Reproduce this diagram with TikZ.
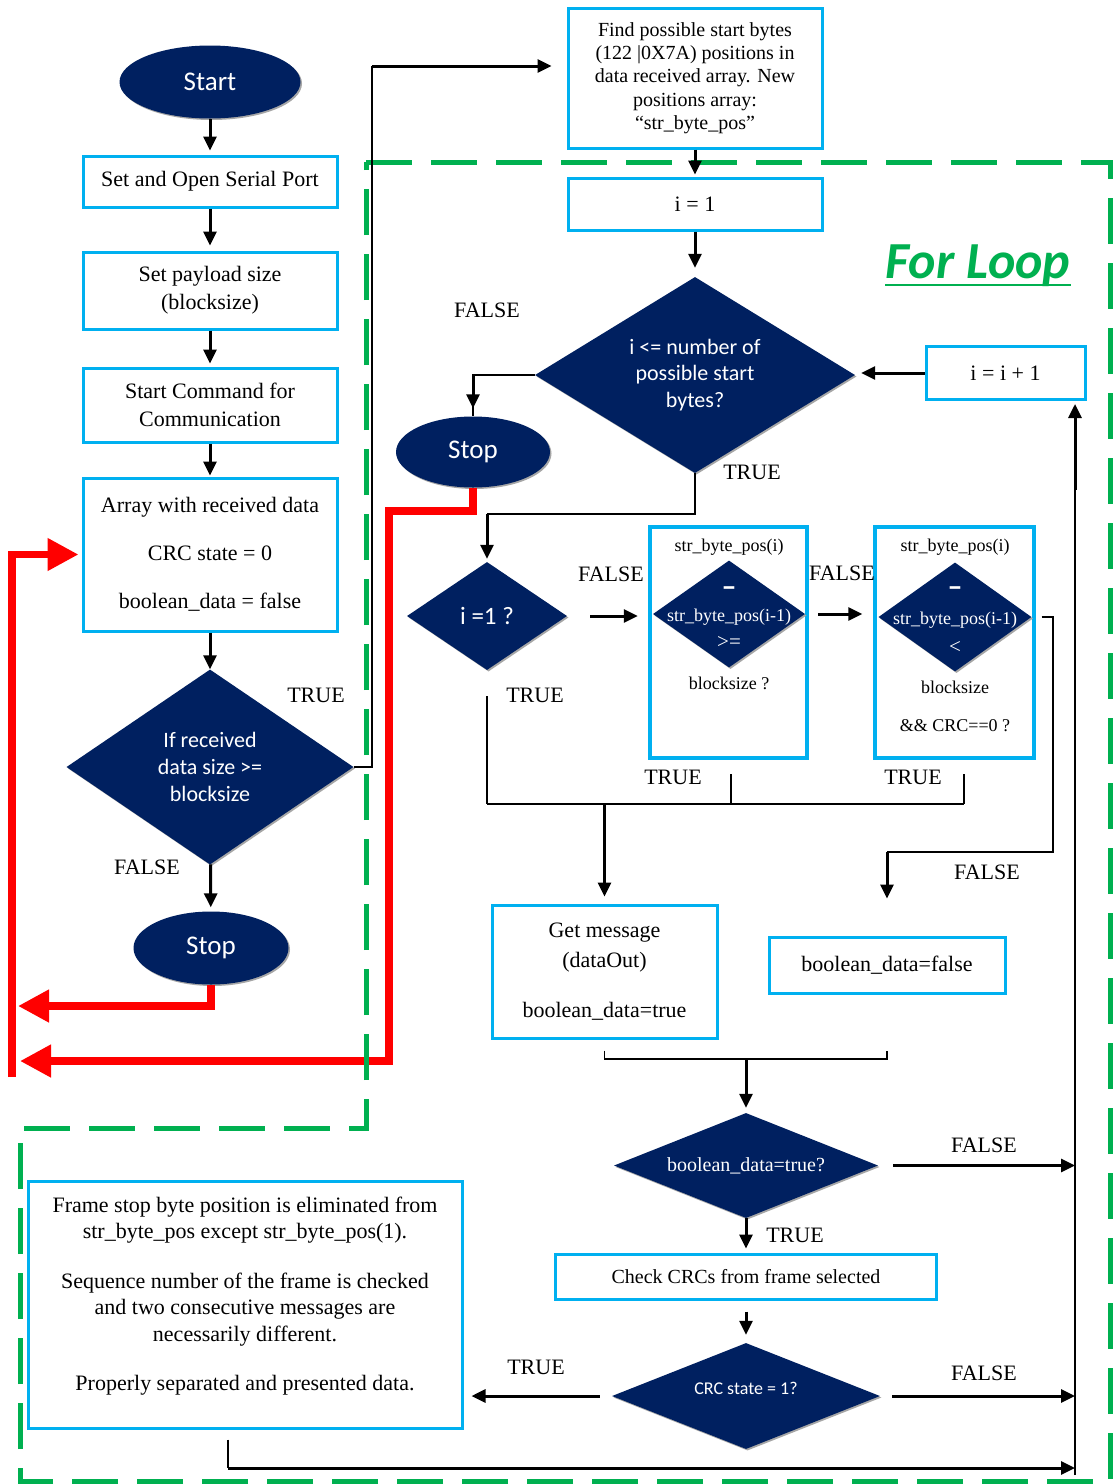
\documentclass[tikz,border=0pt]{standalone}
\usepackage{fontspec}
\setmainfont{Liberation Serif}
\newfontfamily\calfont{Carlito}
\usetikzlibrary{shapes.geometric,arrows.meta,shadows}
\definecolor{navy}{RGB}{0,32,96}
\definecolor{cybox}{RGB}{0,176,240}
\definecolor{redc}{RGB}{255,0,0}
\definecolor{greenc}{RGB}{0,176,80}
\newcommand\myfs[2]{\fontsize{#1}{#2}\selectfont}
\begin{document}
\begin{tikzpicture}[x=1pt,y=-1pt,
  box/.style={draw=cybox, line width=3pt, fill=white, align=center, inner sep=0pt, font=\myfs{22}{26}},
  tallbox/.style={draw=cybox, line width=4.5pt, fill=white, inner sep=0pt},
  term/.style={ellipse, fill=navy, text=white, inner sep=0pt, font=\calfont\myfs{27}{30},
     general shadow={fill=black!35, shadow xshift=1.5pt, shadow yshift=-1.5pt}},
  dec/.style={diamond, fill=navy, inner sep=0pt,
     general shadow={fill=black!35, shadow xshift=1.5pt, shadow yshift=-1.5pt}},
  dlab/.style={text=white, align=center, inner sep=0pt, font=\calfont\myfs{22}{27}},
  tbtxt/.style={inner sep=0pt, font=\myfs{18}{20}},
  tbw/.style={tbtxt, text=white},
  dashtxt/.style={inner sep=0pt, text=white, font=\calfont\bfseries\myfs{30}{30}},
  lab/.style={inner sep=0pt, font=\myfs{22}{26}},
  arr/.style={line width=3pt, -{Triangle[length=14pt,width=13pt]}},
  thinl/.style={line width=1.3pt},
  redarr/.style={draw=redc, line width=7.5pt, -{Triangle[length=31pt,width=31pt]}},
  greend/.style={draw=greenc, line width=5pt, dash pattern=on 46pt off 19pt}
]
\useasboundingbox (0,0) rectangle (1112,1484);
\fill[white] (0,0) rectangle (1112,1484);

% ---------- nodes: left column
\node[term, minimum width=181pt, minimum height=73pt] (start) at (210,82) {Start};
\node[box, minimum width=254pt, minimum height=51pt] (b1) at (210,181.5) {Set and Open Serial Port};
\node[box, font=\myfs{22}{28}, minimum width=254pt, minimum height=77pt] (b2) at (210,290.5) {Set payload size\\(blocksize)};
\node[box, font=\myfs{22}{28}, minimum width=254pt, minimum height=74pt] (b3) at (210,405) {Start Command for\\Communication};
\node[box, minimum width=254pt, minimum height=153pt] (b4) at (210,554.5) {Array with received data\\[22pt]CRC state = 0\\[22pt]boolean\_data = false};
\node[dec, minimum width=287pt, minimum height=195pt,
  label={[dlab]center:{If received\\data size >=\\blocksize}}] (ifd) at (210,767) {};
\node[term, minimum width=155pt, minimum height=73pt] (stop1) at (211,948) {Stop};

% ---------- nodes: right part
\node[box, font=\myfs{20}{23.3}, minimum width=254pt, minimum height=140pt] (find) at (695,78)
  {Find possible start bytes\\(122 |0X7A) positions in\\data received array. New\\positions array:\\“str\_byte\_pos”};
\node[box, minimum width=254pt, minimum height=52pt] (i1) at (695,204) {i = 1};
\node[dec, minimum width=320pt, minimum height=196pt,
  label={[dlab, font=\calfont\myfs{22}{26.5}]center:{i <= number of\\possible start\\bytes?}}] (loop) at (695,375) {};
\node[box, minimum width=159pt, minimum height=53pt] (inc) at (1005.5,373) {i = i + 1};
\node[term, minimum width=154pt, minimum height=71pt] (stop2) at (473,452) {Stop};
\node[dec, minimum width=160pt, minimum height=108pt,
  label={[dlab, font=\calfont\myfs{25}{28}]center:{i =1 ?}}] (ieq) at (487,616) {};

\node[tallbox, minimum width=157pt, minimum height=231pt] (tb1) at (728.5,642.5) {};
\node[dec, minimum width=152pt, minimum height=107pt] (d1) at (729,614) {};
\node[tbtxt] (t1a) at (729,547) {str\_byte\_pos(i)};
\node[dashtxt] (t1b) at (729,592) {–};
\node[tbw] (t1c) at (729,617) {str\_byte\_pos(i-1)};
\node[tbw, font=\myfs{21}{22}] (t1d) at (729,642) {>=};
\node[tbtxt] (t1e) at (729,683) {blocksize ?};

\node[tallbox, minimum width=159pt, minimum height=231pt] (tb2) at (954.5,642.5) {};
\node[dec, minimum width=153pt, minimum height=109pt] (d2) at (955,617) {};
\node[tbtxt] (t2a) at (955,547) {str\_byte\_pos(i)};
\node[dashtxt] (t2b) at (955,592) {–};
\node[tbw] (t2c) at (955,620) {str\_byte\_pos(i-1)};
\node[tbw, font=\myfs{21}{22}] (t2d) at (955,647) {<};
\node[tbtxt] (t2e) at (955,687) {blocksize};
\node[tbtxt] (t2f) at (955,726) {\&\& CRC==0 ?};

\node[box, font=\myfs{22}{30}, minimum width=225pt, minimum height=133pt] (getm) at (604.5,971.5)
  {Get message\\(dataOut)\\[20pt]boolean\_data=true};
\node[box, minimum width=236pt, minimum height=56pt] (bfalse) at (887,965) {boolean\_data=false};
\node[dec, minimum width=264pt, minimum height=105pt,
  label={[dlab, font=\myfs{20}{22}]center:{boolean\_data=true?}}] (bool) at (746,1165.5) {};
\node[box, font=\myfs{20}{24}, minimum width=381pt, minimum height=45pt] (check) at (746,1276.5) {Check CRCs from frame selected};
\node[dec, minimum width=268pt, minimum height=106pt,
  label={[dlab, font=\calfont\myfs{18}{20}, yshift=8pt]center:{CRC state = 1?}}] (crc) at (746,1396) {};
\node[box, font=\myfs{22}{26.5}, minimum width=434pt, minimum height=247pt] (frame) at (245,1304.5)
  {Frame stop byte position is eliminated from\\str\_byte\_pos except str\_byte\_pos(1).\\[23pt]Sequence number of the frame is checked\\and two consecutive messages are\\necessarily different.\\[23pt]Properly separated and presented data.\\[-4.5pt]\mbox{}};

\node[font=\calfont\bfseries\itshape\myfs{52}{56}, text=greenc, anchor=base, inner sep=0pt] (fl) at (978,278) {For Loop};
\draw[greenc, line width=2.7pt] ([yshift=-7pt]fl.base west) -- ([yshift=-7pt]fl.base east);

% ---------- coordinates
\coordinate (rL) at (12,1077);
\coordinate (r1) at (18,1006);
\coordinate (r2a) at (389,511);
\coordinate (r2) at (20,1061);
\coordinate (tr) at (372,66);
\coordinate (jL) at (487,514);
\coordinate (m) at (487,804);
\coordinate (mr) at (964,804);
\coordinate (f1) at (1053,852);
\coordinate (brk) at (746,1059);
\coordinate (rb) at (1075,1475);
\coordinate (rm) at (1075,490);
\coordinate (rt) at (1075,404);
\coordinate (fb) at (228,1468);

% ---------- red connectors
\draw[redarr, shorten >=3pt] (rL) |- (b4.west);
\draw[redarr] (stop1.south) |- (r1);
\draw[redarr] (stop2.south) |- (r2a) |- (r2);

% ---------- green loop frame
\draw[greend] (366,162) -- (1110,162) -- (1110,1481) -- (20,1481) -- (20,1128) -- (366,1128) -- cycle;

% ---------- labels
\node[lab] (l1) at (316,695) {TRUE};
\node[lab] (l2) at (147,867) {FALSE};
\node[lab] (l3) at (487,310) {FALSE};
\node[lab] (l4) at (752,472) {TRUE};
\node[lab] (l5) at (611,574) {FALSE};
\node[lab] (l6) at (535,695) {TRUE};
\node[lab] (l7) at (842,573) {FALSE};
\node[lab] (l8) at (673,777) {TRUE};
\node[lab] (l9) at (913,777) {TRUE};
\node[lab] (l10) at (987,872) {FALSE};
\node[lab] (l11) at (984,1145) {FALSE};
\node[lab] (l12) at (795,1235) {TRUE};
\node[lab] (l13) at (984,1373) {FALSE};
\node[lab] (l14) at (536,1367) {TRUE};

% ---------- black connectors, left column
\draw[arr, shorten >=4pt] (start) -- (b1);
\draw[arr, shorten >=5pt] (b1) -- (b2);
\draw[arr, shorten >=3pt] (b2) -- (b3);
\draw[arr, shorten >=1pt] (b3) -- (b4);
\draw[arr] (b4) -- (ifd);
\draw[arr, shorten >=4pt] (ifd) -- (stop1);
\draw[thinl] (ifd.east) -| (tr);
\draw[arr, shorten >=15pt] (tr) -- (tr -| find.west);

% ---------- right part
\draw[arr, shorten >=2pt] (find) -- (i1);
\draw[arr, shorten >=9pt] (i1) -- (loop);
\draw[arr, shorten >=6pt] (inc.west) -- (loop.east |- inc.west);
\draw[thinl] (loop.west) -| (stop2.north);
\draw[arr, shorten >=8pt] (stop2.north |- loop.west) -- (stop2.north);
\draw[thinl] (loop.south) |- (jL);
\draw[arr, shorten >=3pt] (jL) -- (ieq.north);
\draw[arr, shorten <=23pt, shorten >=10pt] (ieq.east) -- (tb1.west |- ieq.east);
\draw[arr, shorten <=13pt, shorten >=16pt] (d1.east) -- (d2.west |- d1.east);
\draw[thinl] ([xshift=10pt]d2.east) -| (f1) -- (bfalse.north |- f1);
\draw[arr, shorten >=37pt] (bfalse.north |- f1) -- (bfalse.north);
\draw[thinl, shorten <=26pt] (ieq.south) -- (m);
\draw[thinl] (m) -- (mr);
\draw[thinl, shorten <=14pt] ([xshift=2.5pt]tb1.south) -- ([xshift=2.5pt]tb1.south |- m);
\draw[thinl, shorten <=14pt] ([xshift=9.5pt]tb2.south) -- (mr);
\draw[arr, shorten >=7pt] (getm.north |- m) -- (getm.north);
\draw[thinl] ([yshift=-11pt]getm.south) -- (getm.south |- brk) -- (bfalse.south |- brk) -- ([yshift=-56pt]bfalse.south);
\draw[arr, shorten >=5pt] (brk) -- (bool.north);
\draw[arr, shorten <=15pt] (bool.east) -- (rb |- bool.east);
\draw[arr, shorten >=4pt] (bool) -- (check);
\draw[arr, shorten <=11pt, shorten >=8pt] (check) -- (crc);
\draw[arr, shorten <=12pt] (crc.east) -- (rb |- crc.east);
\draw[arr, shorten <=12pt, shorten >=8pt] (crc.west) -- (frame.east |- crc.west);
\draw[thinl, shorten <=10pt] ([xshift=-17pt]frame.south) -- (fb);
\draw[arr] (fb) -- (rb |- fb);
\draw[thinl] (rb) -- (rm);
\draw[arr] (rm) -- (rt);
\end{tikzpicture}
\end{document}
